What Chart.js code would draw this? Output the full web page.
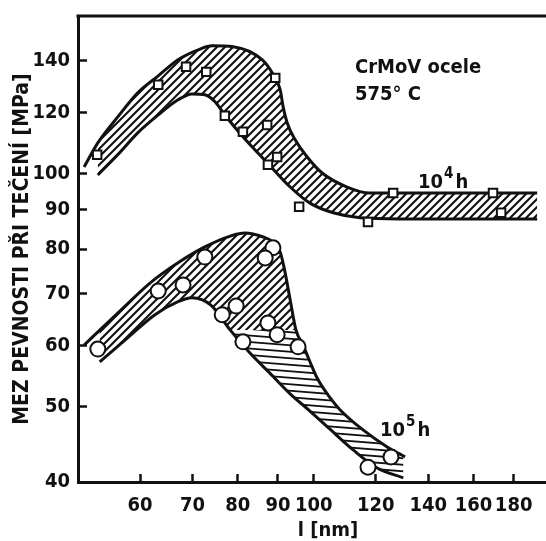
<!DOCTYPE html>
<html>
<head>
<meta charset="utf-8">
<title>Mez pevnosti při tečení</title>
<script src="https://cdn.jsdelivr.net/npm/chart.js@4.4.1/dist/chart.umd.min.js"></script>
<style>
  html, body { margin: 0; padding: 0; background: #fff; overflow: hidden; }
  canvas { display: block; }
</style>
</head>
<body>
<!-- the plot frame runs on past the right edge of the page, so the canvas is wider than the window -->
<canvas id="creepChart" width="578" height="541"></canvas>
<script>
const FONT_FAMILY = '"DejaVu Sans Condensed", "Liberation Sans Narrow", "DejaVu Sans", sans-serif';
const INK = "#111";

const xTicks = [60, 70, 80, 90, 100, 120, 140, 160, 180];
const yTicks = [40, 50, 60, 70, 80, 90, 100, 120, 140];

// 10^4 h band (upper / lower boundary) and measured points
const upper1e4X = [50.9, 53.0, 56.2, 59.6, 63.3, 67.1, 71.2, 74.2, 78.9, 85.9, 88.5, 90.6, 91.4, 92.5, 94.7, 98.1, 102.5, 110.3, 118.0, 192.9];
const upper1e4Y = [102.1, 109.7, 118.5, 127.3, 133.9, 140.5, 144.7, 146.4, 146.0, 140.5, 135.1, 128.5, 122.1, 116.4, 110.7, 105.2, 100.3, 96.2, 94.5, 94.5];
const lower1e4X = [53.0, 56.2, 59.6, 63.3, 67.1, 69.9, 72.6, 74.8, 77.0, 81.2, 87.2, 93.3, 98.9, 105.9, 114.6, 128.9, 192.9];
const lower1e4Y = [99.7, 105.9, 113.0, 119.2, 124.7, 126.9, 126.6, 124.0, 119.2, 111.7, 103.4, 96.2, 91.7, 89.1, 87.8, 87.5, 87.5];
const squares1e4X = [52.9, 63.3, 68.7, 72.9, 77.0, 81.2, 87.2, 89.3, 89.8, 87.4, 95.8, 117.3, 126.3, 169.4, 173.5];
const squares1e4Y = [105.9, 130.4, 137.6, 135.5, 118.9, 113.4, 115.7, 133.1, 105.2, 102.8, 90.7, 86.7, 94.5, 94.5, 89.1];

// 10^5 h band and measured points
const upper1e5X = [50.9, 56.2, 62.0, 67.1, 72.6, 78.4, 81.7, 86.2, 88.7, 90.6, 91.6, 93.3, 94.9, 96.9, 98.9, 101.0, 104.9, 108.0, 115.6, 124.1, 130.8];
const upper1e5Y = [60.1, 66.1, 72.5, 76.8, 80.5, 83.2, 83.9, 82.9, 81.7, 79.3, 75.9, 68.8, 62.9, 60.1, 57.2, 54.5, 51.4, 49.6, 46.7, 44.4, 43.1];
const lower1e5X = [53.3, 57.4, 62.7, 67.1, 69.9, 73.9, 78.2, 82.9, 87.9, 93.3, 98.9, 104.9, 112.3, 120.5, 130.1];
const lower1e5Y = [57.2, 61.0, 65.8, 68.4, 69.2, 67.7, 62.9, 58.7, 55.3, 52.0, 49.4, 46.8, 44.0, 41.7, 40.5];
const circles1e5X = [53.0, 63.3, 68.1, 72.6, 76.4, 79.6, 81.2, 87.4, 88.7, 86.7, 89.8, 95.5, 117.3, 125.5];
const circles1e5Y = [59.4, 70.6, 71.9, 78.1, 65.8, 67.5, 60.7, 64.2, 80.3, 77.9, 62.0, 59.8, 41.8, 43.1];

function toPoints(xs, ys) {
  return xs.map((x, i) => ({ x: x, y: ys[i] }));
}

// hatch texture for the bands: "/" strokes, with nearly level strokes
// in the lower right where the 10^5 h band falls away
function makeHatch(w, h) {
  const splitX = 232;
  const splitY = 330;
  const tex = document.createElement("canvas");
  tex.width = w;
  tex.height = h;
  const t = tex.getContext("2d");
  t.strokeStyle = INK;

  t.save();
  t.beginPath();
  t.rect(0, 0, w, h);
  t.rect(splitX, splitY, w - splitX, h - splitY);
  t.clip("evenodd");
  t.lineWidth = 2.1;
  t.beginPath();
  for (let c = 0; c < w + h; c += 8) {
    t.moveTo(c, 0);
    t.lineTo(c - h, h);
  }
  t.stroke();
  t.restore();

  t.save();
  t.beginPath();
  t.rect(splitX, splitY, w - splitX, h - splitY);
  t.clip();
  t.lineWidth = 1.8;
  t.beginPath();
  for (let y = splitY - 60; y < h; y += 6.5) {
    t.moveTo(0, y);
    t.lineTo(w, y + 0.08 * w);
  }
  t.stroke();
  t.restore();

  return t.createPattern(tex, "no-repeat");
}

function drawPower(ctx, x, y, base, exp, unit) {
  ctx.font = `bold 20px ${FONT_FAMILY}`;
  ctx.fillText(base, x, y);
  let w = ctx.measureText(base).width;
  ctx.font = `bold 15px ${FONT_FAMILY}`;
  ctx.fillText(exp, x + w + 1, y - 10);
  w += ctx.measureText(exp).width + 3;
  ctx.font = `bold 20px ${FONT_FAMILY}`;
  ctx.fillText(unit, x + w, y);
}

// keep the axes tight against the plot area
function fixScale(scale, size) {
  if (scale.isHorizontal()) {
    scale.height = size;
  } else {
    scale.width = size;
  }
  scale.paddingTop = 0;
  scale.paddingBottom = 0;
  scale.paddingLeft = 0;
  scale.paddingRight = 0;
}

// top frame line and the text notes inside the plot
const notesPlugin = {
  id: "notes",
  afterDraw(chart) {
    const ctx = chart.ctx;
    const area = chart.chartArea;
    const sx = chart.scales.x;
    const sy = chart.scales.y;
    ctx.save();
    ctx.strokeStyle = INK;
    ctx.lineWidth = 3;
    ctx.beginPath();
    ctx.moveTo(area.left - 1.5, area.top);
    ctx.lineTo(area.right, area.top);
    ctx.stroke();

    ctx.fillStyle = INK;
    ctx.textBaseline = "alphabetic";
    ctx.textAlign = "left";
    ctx.font = `bold 20px ${FONT_FAMILY}`;
    ctx.fillText("CrMoV ocele", sx.getPixelForValue(112.9), sy.getPixelForValue(135.1));
    ctx.fillText("575° C", sx.getPixelForValue(112.9), sy.getPixelForValue(124.7));
    drawPower(ctx, sx.getPixelForValue(135.9), sy.getPixelForValue(96.0), "10", "4", "h");
    drawPower(ctx, sx.getPixelForValue(121.5), sy.getPixelForValue(45.9), "10", "5", "h");
    ctx.restore();
  }
};

document.addEventListener("DOMContentLoaded", function () {
  const canvas = document.getElementById("creepChart");
  const hatch = makeHatch(canvas.width, canvas.height);
  const ctx = canvas.getContext("2d");

  const edge = {
    borderColor: INK,
    borderWidth: 3,
    pointRadius: 0,
    cubicInterpolationMode: "monotone",
    order: 1,
  };

  new Chart(ctx, {
    type: "line",
    data: {
      datasets: [
        { ...edge, label: "10^4 h upper", data: toPoints(upper1e4X, upper1e4Y), fill: "+1", backgroundColor: hatch },
        { ...edge, label: "10^4 h lower", data: toPoints(lower1e4X, lower1e4Y), fill: false },
        { ...edge, label: "10^5 h upper", data: toPoints(upper1e5X, upper1e5Y), fill: "+1", backgroundColor: hatch },
        { ...edge, label: "10^5 h lower", data: toPoints(lower1e5X, lower1e5Y), fill: false },
        {
          label: "10^4 h",
          data: toPoints(squares1e4X, squares1e4Y),
          showLine: false,
          pointStyle: "rect",
          pointRadius: 6,
          pointBackgroundColor: "#fff",
          pointBorderColor: INK,
          pointBorderWidth: 2,
          order: 0,
        },
        {
          label: "10^5 h",
          data: toPoints(circles1e5X, circles1e5Y),
          showLine: false,
          pointStyle: "circle",
          pointRadius: 7.5,
          pointBackgroundColor: "#fff",
          pointBorderColor: INK,
          pointBorderWidth: 2,
          order: 0,
        },
      ],
    },
    options: {
      responsive: false,
      animation: false,
      layout: { autoPadding: false, padding: { top: 16, right: 0, bottom: 0, left: 0 } },
      plugins: {
        legend: { display: false },
        tooltip: { enabled: false },
      },
      scales: {
        x: {
          type: "logarithmic",
          min: 50,
          max: 217.5,
          afterBuildTicks: (scale) => { scale.ticks = xTicks.map((v) => ({ value: v })); },
          afterFit: (scale) => fixScale(scale, 59),
          border: { display: true, color: INK, width: 3 },
          grid: { drawOnChartArea: false, tickLength: -8, tickWidth: 2.5, tickColor: INK },
          ticks: {
            autoSkip: false,
            maxRotation: 0,
            padding: 20,
            color: INK,
            font: { family: FONT_FAMILY, size: 20, weight: "bold" },
            callback: (value) => String(value),
          },
          title: {
            display: true,
            text: "l [nm]",
            color: INK,
            padding: { top: 0, bottom: 0 },
            font: { family: FONT_FAMILY, size: 20, weight: "bold", lineHeight: 1 },
          },
        },
        y: {
          type: "logarithmic",
          min: 40,
          max: 160,
          afterBuildTicks: (scale) => { scale.ticks = yTicks.map((v) => ({ value: v })); },
          afterFit: (scale) => fixScale(scale, 78),
          border: { display: true, color: INK, width: 3 },
          grid: { drawOnChartArea: false, tickLength: -9, tickWidth: 2.5, tickColor: INK },
          ticks: {
            autoSkip: false,
            padding: 17,
            color: INK,
            font: { family: FONT_FAMILY, size: 20, weight: "bold" },
            callback: (value) => String(value),
          },
          title: {
            display: true,
            text: "MEZ PEVNOSTI PŘI TEČENÍ [MPa]",
            color: INK,
            padding: { top: 10, bottom: 0 },
            font: { family: FONT_FAMILY, size: 21, weight: "bold" },
          },
        },
      },
    },
    plugins: [notesPlugin],
  });
});
</script>
</body>
</html>
